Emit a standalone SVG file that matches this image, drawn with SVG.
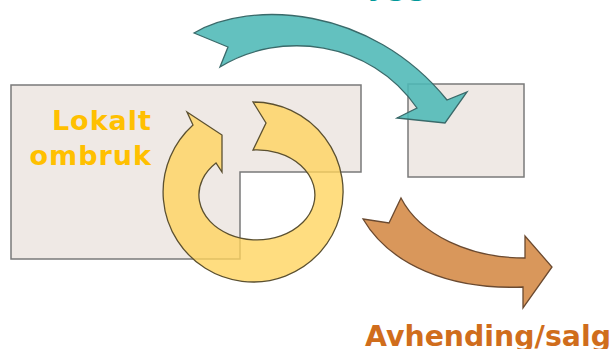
<svg xmlns="http://www.w3.org/2000/svg" width="615" height="349" viewBox="0 0 615 349">
  <style>
    .box { fill: #efe9e5; stroke: #7a7a7a; stroke-width: 1.5; }
    .lbl { font-family: "DejaVu Sans", Verdana, sans-serif; font-weight: bold; }
    .arr { stroke-width: 1.3; stroke-linejoin: miter; }
  </style>
  <rect width="615" height="349" fill="#ffffff"/>
  <g id="node-local">
    <path class="box" d="M11,85 H361 V172 H240 V259 H11 Z"/>
  </g>
  <g id="node-other">
    <rect class="box" x="408" y="84" width="116" height="93"/>
  </g>
  <g id="connectors">
    <path id="arrow-reuse" class="arr" fill="#ffd35c" fill-opacity="0.78" stroke="#5b5030"
      d="M253,102 A90,90 0 1 1 193,125 L187,112 L222,135 L222,172 L216,163 A58,45 0 1 0 253,150 L266,123 Z"/>
    <path id="arrow-transfer" class="arr" fill="#4db8b6" fill-opacity="0.88" stroke="#3a6a6a"
      d="M194,33 C250,0 370,5 447,100 L467,92 L445,123 L397,118 L417,108 C370,40 280,30 220,67 L228,47 Z"/>
    <path id="arrow-sale" class="arr" fill="#d9975b" stroke="#6b4a30"
      d="M363,219 L389,223 L401,198 C420,235 470,258 525,258 L525,236 L552,267 L523,308 L523,287 C450,290 390,265 363,219 Z"/>
  </g>
  <g id="labels">
    <text class="lbl" x="428" y="-5" font-size="29" fill="#00999a" text-anchor="end">bygg</text>
    <text class="lbl" x="152" y="130" font-size="27" letter-spacing="1" fill="#ffc000" text-anchor="end">Lokalt</text>
    <text class="lbl" x="152" y="165" font-size="27" letter-spacing="1" fill="#ffc000" text-anchor="end">ombruk</text>
    <text class="lbl" x="365" y="346" font-size="28" textLength="246" lengthAdjust="spacingAndGlyphs" fill="#d06d1c">Avhending/salg</text>
  </g>
</svg>
